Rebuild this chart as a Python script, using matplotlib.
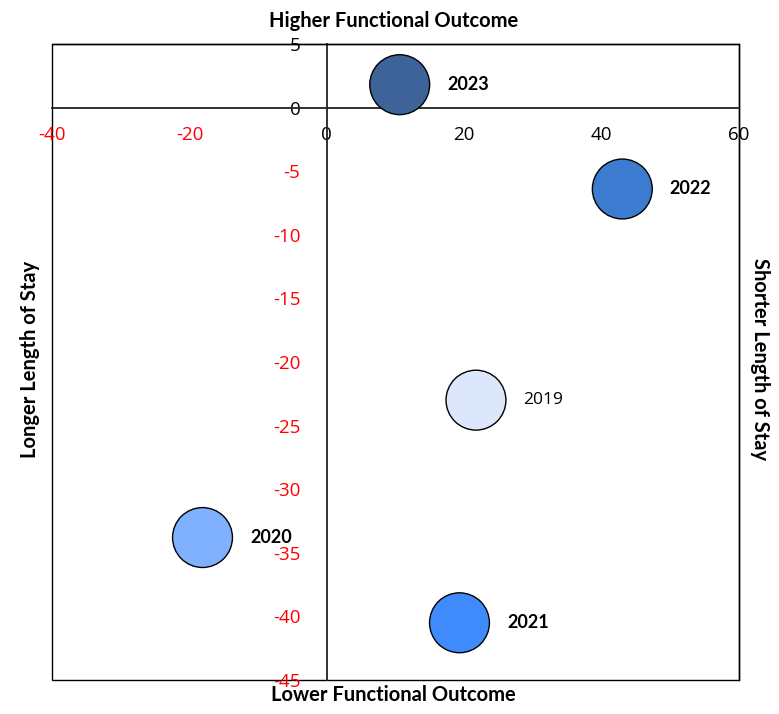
import matplotlib
matplotlib.use("Agg")
import matplotlib.pyplot as plt
from matplotlib.patches import Rectangle

plt.rcParams['font.family'] = ['Open Sans', 'DejaVu Sans']
BOLD_FONT = ['Lato', 'DejaVu Sans']

# data
years = ['2019', '2020', '2021', '2022', '2023']
func_outcome = [21.7, -18.1, 19.3, 43.0, 10.6]
length_of_stay = [-23.0, -33.8, -40.5, -6.4, 1.8]
colors = ['#dce7fb', '#80b1ff', '#3f8bfb', '#3d7bd0', '#3e6398']
label_weight = ['normal', 'bold', 'bold', 'bold', 'bold']

x_ticks = [-40, -20, 0, 20, 40, 60]
y_ticks = [5, 0, -5, -10, -15, -20, -25, -30, -35, -40, -45]

fig = plt.figure(figsize=(7.79, 7.14), dpi=100)
ax = fig.add_axes([0.0668, 0.0476, 0.882, 0.8908])

ax.scatter(func_outcome, length_of_stay, s=1860, c=colors,
           edgecolors='black', linewidths=1.0, zorder=5, clip_on=False)

for x, y, yr, w in zip(func_outcome, length_of_stay, years, label_weight):
    if w == 'bold':
        ax.text(x + 6.9, y, yr, ha='left', va='center', fontsize=13,
                fontweight='bold', family=BOLD_FONT, zorder=6)
    else:
        ax.text(x + 6.9, y, yr, ha='left', va='center', fontsize=12.5,
                zorder=6)

ax.set_xlim(-40, 60)
ax.set_ylim(-45, 4.8)

# center axes
ax.spines['left'].set_position(('data', 0))
ax.spines['bottom'].set_position(('data', 0))
for sp in ['left', 'bottom']:
    ax.spines[sp].set_color('#222222')
    ax.spines[sp].set_linewidth(1.3)
for sp in ['top', 'right']:
    ax.spines[sp].set_linewidth(1.0)

# outer box
ax.add_patch(Rectangle((0, 0), 1, 1, transform=ax.transAxes, fill=False,
                       edgecolor='black', linewidth=1.0, clip_on=False, zorder=1))

ax.set_xticks(x_ticks)
ax.set_yticks(y_ticks)
ax.set_xticklabels([str(v) for v in x_ticks])
ax.set_yticklabels([str(v) for v in y_ticks])
ax.tick_params(axis='both', length=0, labelsize=13.5)
ax.tick_params(axis='x', pad=13)
ax.tick_params(axis='y', pad=19)

for lbl, v in zip(ax.get_xticklabels(), x_ticks):
    lbl.set_color('red' if v < 0 else 'black')
for lbl, v in zip(ax.get_yticklabels(), y_ticks):
    lbl.set_color('red' if v < 0 else 'black')

side = dict(ha='center', va='center', fontsize=14.5, fontweight='bold',
            family=BOLD_FONT)
fig.text(0.505, 0.971, 'Higher Functional Outcome', **side)
fig.text(0.505, 0.026, 'Lower Functional Outcome', **side)
fig.text(0.039, 0.497, 'Longer Length of Stay', rotation=90, **side)
fig.text(0.976, 0.497, 'Shorter Length of Stay', rotation=270, **side)

fig.savefig('out.png', dpi=100)
